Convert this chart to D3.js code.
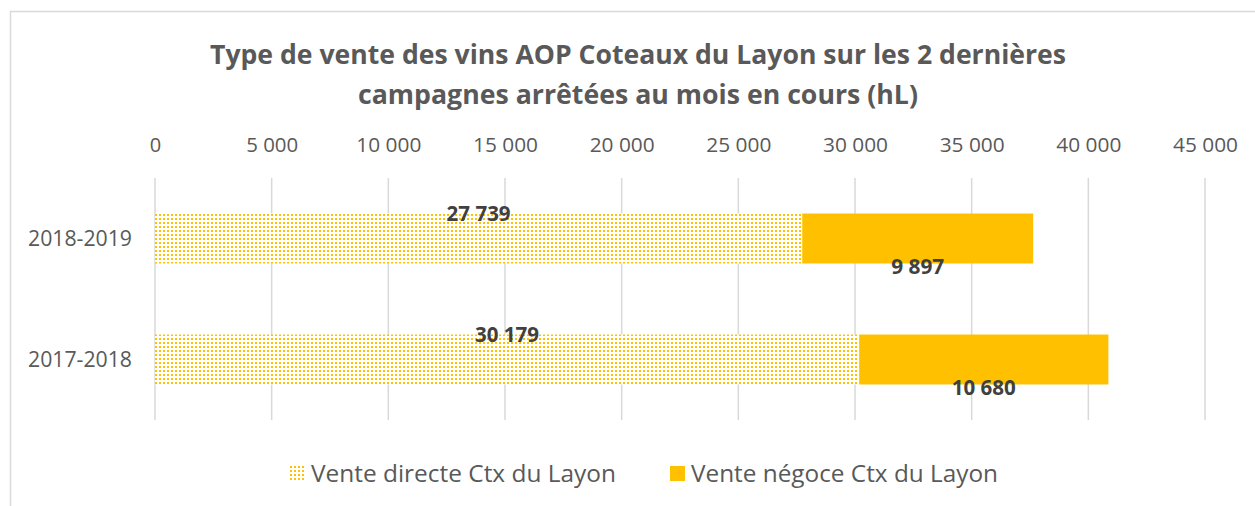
<!DOCTYPE html>
<html>
<head>
<meta charset="utf-8">
<script src="https://cdn.jsdelivr.net/npm/d3@7"></script>
<style>
  body { margin: 0; background: #fff; }
  text { font-family: "Open Sans", sans-serif; }
</style>
</head>
<body>
<div id="chart"></div>
<script>
// Chart data
const campaigns = ["2018-2019", "2017-2018"];
const venteDirecte = [27739, 30179];
const venteNegoce = [9897, 10680];
const seriesNames = ["Vente directe Ctx du Layon", "Vente négoce Ctx du Layon"];
const xTicks = [0, 5000, 10000, 15000, 20000, 25000, 30000, 35000, 40000, 45000];
const titleLines = [
    "Type de vente des vins AOP Coteaux du Layon sur les 2 dernières",
    "campagnes arrêtées au mois en cours (hL)"
];

const W = 1255, H = 506;
const margin = { top: 178, right: 50, bottom: 86, left: 155 },
    width = W - margin.left - margin.right,
    height = H - margin.top - margin.bottom;

const orange = "#FFC000", grey = "#595959";

const svg = d3.select("#chart").append("svg")
    .attr("width", W)
    .attr("height", H);

// dotted pattern for direct sales
const defs = svg.append("defs");
const pat = defs.append("pattern")
    .attr("id", "dots")
    .attr("patternUnits", "userSpaceOnUse")
    .attr("width", 4)
    .attr("height", 4);
pat.append("rect").attr("width", 4).attr("height", 4).attr("fill", "#fff");
pat.append("rect").attr("x", 0).attr("y", 0).attr("width", 2).attr("height", 2).attr("fill", orange);

// chart frame
svg.append("rect")
    .attr("x", 10.5).attr("y", 11.5)
    .attr("width", 1400).attr("height", 700)
    .attr("fill", "none")
    .attr("stroke", "#d9d9d9")
    .attr("stroke-width", 1.5);

// Title
svg.append("g").selectAll("text")
    .data(titleLines)
    .enter().append("text")
    .attr("x", 638)
    .attr("y", (d, i) => 64 + i * 40)
    .attr("text-anchor", "middle")
    .attr("textLength", (d, i) => i === 0 ? 856 : 560)
    .attr("lengthAdjust", "spacingAndGlyphs")
    .style("font-size", "26px")
    .style("font-weight", "bold")
    .style("fill", grey)
    .text(d => d);

const g = svg.append("g")
    .attr("transform", `translate(${margin.left},${margin.top})`);

const x = d3.scaleLinear().domain([0, 45000]).range([0, width]);
const y = d3.scaleBand().domain(campaigns).range([0, height])
    .paddingInner(0.587).paddingOuter(0.2935);

const fmt = v => d3.format(",")(v).replace(/,/g, " ");

// Grid lines
g.append("g").selectAll("line")
    .data(xTicks)
    .enter().append("line")
    .attr("x1", d => x(d)).attr("x2", d => x(d))
    .attr("y1", 0).attr("y2", height)
    .attr("stroke", "#d9d9d9")
    .attr("stroke-width", 1.5);

// Top axis labels
const xAxis = g.append("g")
    .call(d3.axisTop(x).tickValues(xTicks).tickFormat(fmt).tickSize(0).tickPadding(26));
xAxis.select(".domain").remove();
xAxis.selectAll("text")
    .style("font-size", "20px")
    .style("fill", grey)
    .attr("textLength", d => d === 0 ? null : (d < 10000 ? 52 : 65))
    .attr("lengthAdjust", "spacingAndGlyphs");

// Category labels
const yAxis = g.append("g")
    .call(d3.axisLeft(y).tickSize(0).tickPadding(23));
yAxis.select(".domain").remove();
yAxis.selectAll("text")
    .style("font-size", "22px")
    .style("fill", grey)
    .attr("textLength", 104)
    .attr("lengthAdjust", "spacingAndGlyphs");

// Bars
const rows = campaigns.map((c, i) => ({ c, a: venteDirecte[i], b: venteNegoce[i] }));

g.selectAll(".direct")
    .data(rows)
    .enter().append("rect")
    .attr("class", "direct")
    .attr("x", x(0))
    .attr("y", d => y(d.c))
    .attr("width", d => x(d.a) - x(0))
    .attr("height", y.bandwidth())
    .attr("fill", "url(#dots)");

g.selectAll(".negoce")
    .data(rows)
    .enter().append("rect")
    .attr("class", "negoce")
    .attr("x", d => x(d.a))
    .attr("y", d => y(d.c))
    .attr("width", d => x(d.a + d.b) - x(d.a))
    .attr("height", y.bandwidth())
    .attr("fill", orange);

// Value labels
const lblStyle = sel => sel
    .attr("text-anchor", "middle")
    .style("font-size", "21px")
    .style("font-weight", "bold")
    .style("fill", "#404040")
    .attr("lengthAdjust", "spacingAndGlyphs");

g.selectAll(".lblA")
    .data(rows)
    .enter().append("text")
    .attr("x", d => x(d.a / 2))
    .attr("y", d => y(d.c) + 7)
    .attr("textLength", 64)
    .text(d => fmt(d.a))
    .call(lblStyle);

g.selectAll(".lblB")
    .data(rows)
    .enter().append("text")
    .attr("x", d => x(d.a + d.b / 2))
    .attr("y", d => y(d.c) + y.bandwidth() + 11)
    .attr("textLength", d => d.b < 10000 ? 53 : 64)
    .text(d => fmt(d.b))
    .call(lblStyle);

// Legend
const legendX = [290, 670];
const legend = svg.append("g");
seriesNames.forEach((name, i) => {
    const lg = legend.append("g").attr("transform", `translate(${legendX[i]}, 466)`);
    lg.append("rect")
        .attr("width", 15).attr("height", 15)
        .attr("fill", i === 0 ? "url(#dots)" : orange);
    lg.append("text")
        .attr("x", 21)
        .attr("y", 16)
        .style("font-size", "24px")
        .style("fill", grey)
        .attr("textLength", i === 0 ? 305 : 307)
        .attr("lengthAdjust", "spacingAndGlyphs")
        .text(name);
});
</script>
</body>
</html>
